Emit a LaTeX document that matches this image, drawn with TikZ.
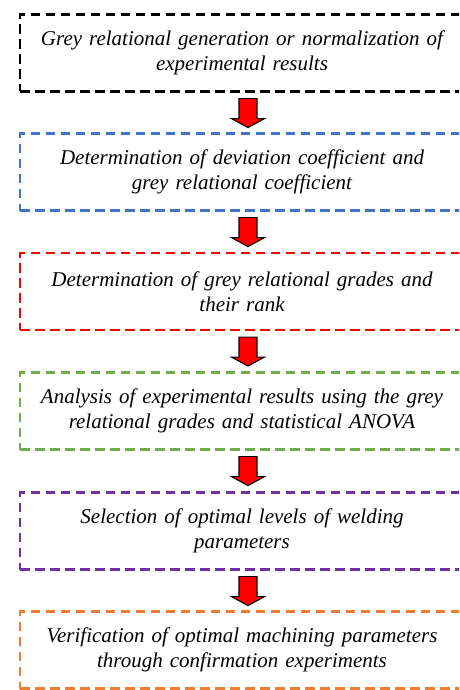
\documentclass[tikz,border=0pt]{standalone}
\usepackage{fontspec}
\setmainfont{Liberation Serif}
\usetikzlibrary{calc}
\definecolor{cblue}{HTML}{4472C4}
\definecolor{cred}{HTML}{FF0000}
\definecolor{cgreen}{HTML}{70AD47}
\definecolor{cpurple}{HTML}{7030A0}
\definecolor{corange}{HTML}{ED7D31}
\tikzset{
  stagebox/.style={draw=#1, line width=2.2pt, dash pattern=on 9.5pt off 5.5pt,
    minimum width=444pt, minimum height=77pt, inner sep=0pt,
    text width=440pt, align=center,
    font=\fontsize{21}{24.5}\selectfont\itshape},
  fatarrow/.style={fill=cred, draw=black, line width=1.1pt, line join=miter}
}
\begin{document}
\begin{tikzpicture}[x=1pt,y=-1pt]
\useasboundingbox (0,0) rectangle (459,690);
\clip (0,0) rectangle (459,690);
\node[stagebox=black]   (b1) at (242,53)    {Grey relational generation or normalization of\\experimental results};
\node[stagebox=cblue]   (b2) at (242,172)   {Determination of deviation coefficient and\\grey relational coefficient};
\node[stagebox=cred]    (b3) at (242,291.5) {Determination of grey relational grades and\\their rank};
\node[stagebox=cgreen]  (b4) at (242,411)   {Analysis of experimental results using the grey\\relational grades and statistical ANOVA};
\node[stagebox=cpurple] (b5) at (242,531)   {Selection of optimal levels of welding\\parameters};
\node[stagebox=corange] (b6) at (242,650)   {Verification of optimal machining parameters\\through confirmation experiments};
\foreach \a in {b1,b2,b3,b4,b5}{
  \draw[fatarrow] ([shift={(-3,6)}]\a.south) -- ++(18,0) -- ++(0,20) -- ++(7.5,0)
    -- ++(-16.5,9) -- ++(-16.5,-9) -- ++(7.5,0) -- cycle;
}
\end{tikzpicture}
\end{document}
